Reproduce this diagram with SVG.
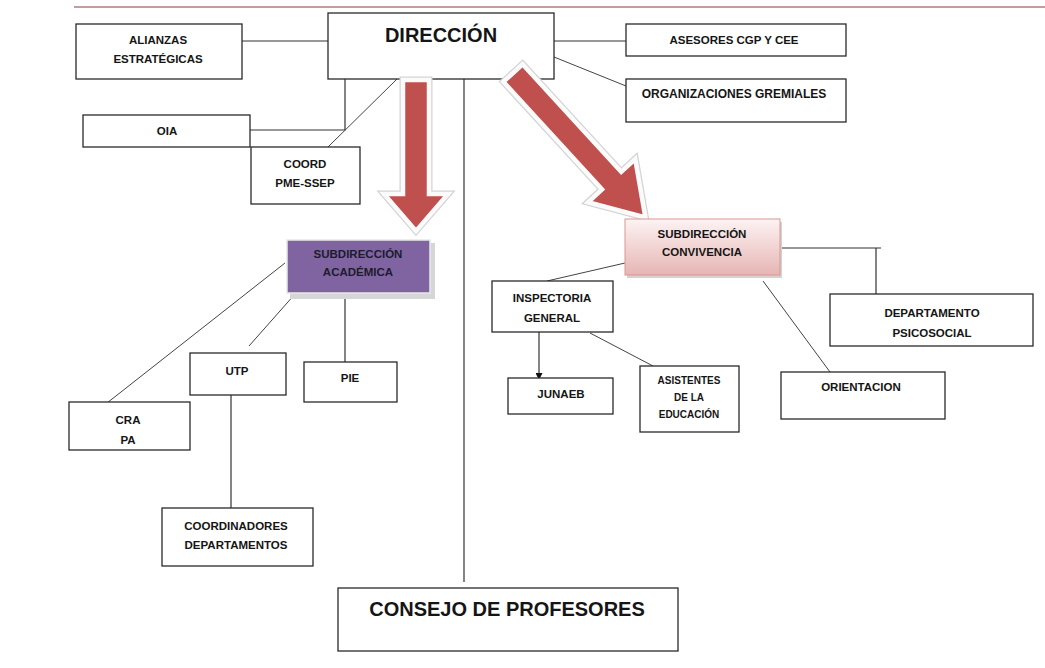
<svg xmlns="http://www.w3.org/2000/svg" width="1045" height="668" viewBox="0 0 1045 668">
<style>
.box{fill:#fff;stroke:#2a2a2a;stroke-width:1.3}
.t{font-family:"Liberation Sans",Arial,sans-serif;font-weight:bold;font-size:11.5px;fill:#151515;text-anchor:middle}
.big{font-size:20px}
.ln{stroke:#333;stroke-width:1.2;fill:none}
.thin{stroke:#444;stroke-width:1;fill:none}
.arO{fill:#c0504d;stroke:#d4d4d4;stroke-width:7;stroke-linejoin:miter}
.arI{fill:#c0504d;stroke:#fbfbfb;stroke-width:4.5;stroke-linejoin:miter}
</style>
<defs>
<linearGradient id="pink" x1="0" y1="0" x2="0" y2="1">
<stop offset="0" stop-color="#fdf3f3"/>
<stop offset="1" stop-color="#e6b5b4"/>
</linearGradient>
<marker id="tri" viewBox="0 0 10 10" refX="10" refY="5" markerWidth="7" markerHeight="7" orient="auto" markerUnits="userSpaceOnUse">
<path d="M0,0 L10,5 L0,10 Z" fill="#111"/>
</marker>
</defs>
<rect width="1045" height="668" fill="#fff"/>
<line x1="74" y1="7" x2="1045" y2="7" stroke="#c19d9d" stroke-width="2"/>

<g id="connectors">
<line class="ln" x1="242" y1="41" x2="328" y2="41"/>
<polyline class="ln" points="345,79 345,130 250,130"/>
<line class="thin" x1="397" y1="79" x2="328" y2="147"/>
<line class="ln" x1="539" y1="41" x2="626" y2="41"/>
<line class="thin" x1="554" y1="57" x2="626" y2="86"/>
<line class="ln" x1="464" y1="79" x2="464" y2="582"/>
<line class="thin" x1="285" y1="263" x2="107" y2="403"/>
<line class="thin" x1="303" y1="285" x2="249" y2="346"/>
<line class="ln" x1="345" y1="282" x2="345" y2="362"/>
<line class="ln" x1="231" y1="395" x2="231" y2="508"/>
<line class="thin" x1="625" y1="263" x2="547" y2="281"/>
<line class="ln" x1="539" y1="332" x2="539" y2="380" marker-end="url(#tri)"/>
<line class="thin" x1="590" y1="333" x2="653" y2="366"/>
<polyline class="ln" points="780,248 881,248"/>
<line class="ln" x1="876" y1="248" x2="876" y2="294"/>
<line class="thin" x1="763" y1="281" x2="830" y2="372"/>
</g>

<g id="direccion">
<rect class="box" x="328" y="13" width="226" height="66"/>
<text class="t big" x="441" y="42">DIRECCIÓN</text>
</g>
<g id="alianzas">
<rect class="box" x="76" y="24" width="166" height="55"/>
<text class="t" x="158" y="44">ALIANZAS</text>
<text class="t" x="158" y="63">ESTRATÉGICAS</text>
</g>
<g id="oia">
<rect class="box" x="83" y="115" width="167" height="32"/>
<text class="t" x="167" y="135">OIA</text>
</g>
<g id="coord">
<rect class="box" x="251" y="147" width="109" height="57"/>
<text class="t" x="305" y="168">COORD</text>
<text class="t" x="305" y="187">PME-SSEP</text>
</g>
<g id="asesores">
<rect class="box" x="626" y="24" width="220" height="32"/>
<text class="t" x="734" y="44">ASESORES CGP Y CEE</text>
</g>
<g id="organizaciones">
<rect class="box" x="626" y="79" width="220" height="43"/>
<text class="t" x="734" y="98" style="font-size:12px">ORGANIZACIONES GREMIALES</text>
</g>

<g id="arrows">
<path class="arO" d="M-13,0 L13,0 L13,114 L32,114 L0,151 L-32,114 L-13,114 Z" transform="translate(416,80)"/>
<path class="arI" d="M-13,0 L13,0 L13,114 L32,114 L0,151 L-32,114 L-13,114 Z" transform="translate(416,80)"/>
<path class="arO" d="M-13,0 L13,0 L13,146 L32,146 L0,196 L-32,146 L-13,146 Z" transform="translate(513,73) rotate(-42.5)"/>
<path class="arI" d="M-13,0 L13,0 L13,146 L32,146 L0,196 L-32,146 L-13,146 Z" transform="translate(513,73) rotate(-42.5)"/>
</g>

<g id="subdireccion-academica">
<rect x="290" y="243" width="145" height="56" fill="#d6d6d6"/>
<rect x="287" y="240" width="143" height="53" fill="#8064a2" stroke="#e8e8e8" stroke-width="1.5"/>
<text class="t" x="358" y="258" style="fill:#1c1c2c">SUBDIRECCIÓN</text>
<text class="t" x="358" y="276" style="fill:#1c1c2c">ACADÉMICA</text>
</g>
<g id="utp">
<rect class="box" x="190" y="353" width="96" height="42"/>
<text class="t" x="237" y="375">UTP</text>
</g>
<g id="pie">
<rect class="box" x="304" y="362" width="93" height="40"/>
<text class="t" x="350" y="382">PIE</text>
</g>
<g id="cra">
<rect class="box" x="69" y="402" width="121" height="48"/>
<text class="t" x="128" y="424">CRA</text>
<text class="t" x="128" y="444">PA</text>
</g>
<g id="coordinadores">
<rect class="box" x="162" y="508" width="151" height="58"/>
<text class="t" x="236" y="530">COORDINADORES</text>
<text class="t" x="236" y="549">DEPARTAMENTOS</text>
</g>

<g id="subdireccion-convivencia">
<rect x="627" y="222" width="155" height="56" fill="#d9d0d0"/>
<rect x="625" y="219" width="155" height="56" fill="url(#pink)" stroke="#d99694" stroke-width="1"/>
<text class="t" x="702" y="238">SUBDIRECCIÓN</text>
<text class="t" x="702" y="256">CONVIVENCIA</text>
</g>
<g id="inspectoria">
<rect class="box" x="492" y="281" width="121" height="51"/>
<text class="t" x="552" y="302">INSPECTORIA</text>
<text class="t" x="552" y="322">GENERAL</text>
</g>
<g id="junaeb">
<rect class="box" x="508" y="378" width="105" height="36"/>
<text class="t" x="561" y="398">JUNAEB</text>
</g>
<g id="asistentes">
<rect class="box" x="640" y="366" width="99" height="66"/>
<text class="t" x="689" y="384" style="font-size:10px">ASISTENTES</text>
<text class="t" x="689" y="401" style="font-size:10px">DE LA</text>
<text class="t" x="689" y="418" style="font-size:10px">EDUCACIÓN</text>
</g>
<g id="departamento">
<rect class="box" x="830" y="294" width="203" height="52"/>
<text class="t" x="932" y="317">DEPARTAMENTO</text>
<text class="t" x="932" y="337">PSICOSOCIAL</text>
</g>
<g id="orientacion">
<rect class="box" x="781" y="372" width="164" height="47"/>
<text class="t" x="861" y="391">ORIENTACION</text>
</g>
<g id="consejo">
<rect class="box" x="338" y="588" width="340" height="63"/>
<text class="t big" x="507" y="616">CONSEJO DE PROFESORES</text>
</g>
</svg>
